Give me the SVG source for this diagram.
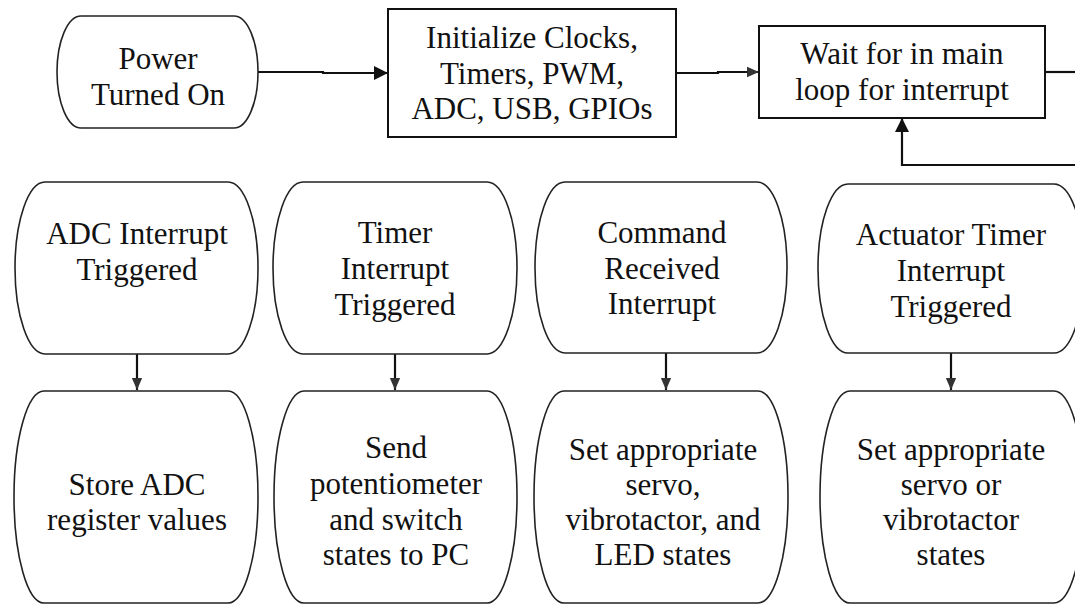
<svg xmlns="http://www.w3.org/2000/svg" width="1075" height="607" viewBox="0 0 1075 607">
  <style>
    .box { fill: #ffffff; stroke: #111111; stroke-width: 2; }
    .pill { fill: #ffffff; stroke: #222222; stroke-width: 1.6; }
    .lbl { font-size: 31px; fill: #111111; text-anchor: middle; }
    .wire { fill: none; stroke: #111111; stroke-width: 2.2; }
    .head { fill: #111111; }
  </style>
  <defs>
    <marker id="tip" markerUnits="userSpaceOnUse" viewBox="0 0 14 14" refX="14" refY="7" markerWidth="14" markerHeight="14" orient="auto">
      <path d="M0,0 L14,7 L0,14 Z" class="head"/>
    </marker>
    <marker id="tipSmall" markerUnits="userSpaceOnUse" viewBox="0 0 14 14" refX="14" refY="7" markerWidth="13" markerHeight="12" orient="auto">
      <path d="M0,1 L14,7 L0,13 Z" fill="#333333"/>
    </marker>
  </defs>

  <rect width="1075" height="607" fill="#ffffff"/>

  <!-- connectors -->
  <g id="connectors">
    <path class="wire" d="M258,72 H323 V73 H388" marker-end="url(#tip)"/>
    <path class="wire" d="M676,73 H718 V72 H759" marker-end="url(#tipSmall)"/>
    <path class="wire" d="M1045,72 H1075"/>
    <path class="wire" d="M1075,165 H902 V118" marker-end="url(#tip)"/>
    <path class="wire" d="M137,354 V390" marker-end="url(#tipSmall)"/>
    <path class="wire" d="M395,354 V390" marker-end="url(#tipSmall)"/>
    <path class="wire" d="M666,353 V390" marker-end="url(#tipSmall)"/>
    <path class="wire" d="M951,353 V390" marker-end="url(#tipSmall)"/>
  </g>

  <g font-family="Liberation Serif, Tinos, DejaVu Serif, serif">
  <!-- start -->
  <g id="power">
    <rect class="pill" x="57" y="16" width="201" height="112" rx="24" ry="56"/>
    <text class="lbl" x="158" y="69">Power</text>
    <text class="lbl" x="158" y="105">Turned On</text>
  </g>

  <g id="init">
    <rect class="box" x="388" y="9" width="288" height="128"/>
    <text class="lbl" x="532" y="48">Initialize Clocks,</text>
    <text class="lbl" x="532" y="84">Timers, PWM,</text>
    <text class="lbl" x="532" y="119">ADC, USB, GPIOs</text>
  </g>

  <g id="wait">
    <rect class="box" x="759" y="26" width="286" height="92"/>
    <text class="lbl" x="902" y="64">Wait for in main</text>
    <text class="lbl" x="902" y="100">loop for interrupt</text>
  </g>

  <!-- interrupt sources -->
  <g id="adc-int">
    <rect class="pill" x="15" y="182" width="243" height="172" rx="30" ry="86"/>
    <text class="lbl" x="137" y="244">ADC Interrupt</text>
    <text class="lbl" x="137" y="280">Triggered</text>
  </g>

  <g id="timer-int">
    <rect class="pill" x="273" y="182" width="244" height="172" rx="30" ry="86"/>
    <text class="lbl" x="395" y="243">Timer</text>
    <text class="lbl" x="395" y="279">Interrupt</text>
    <text class="lbl" x="395" y="315">Triggered</text>
  </g>

  <g id="cmd-int">
    <rect class="pill" x="535" y="182" width="252" height="171" rx="30" ry="85"/>
    <text class="lbl" x="662" y="243">Command</text>
    <text class="lbl" x="662" y="279">Received</text>
    <text class="lbl" x="662" y="314">Interrupt</text>
  </g>

  <g id="act-int">
    <rect class="pill" x="818" y="184" width="266" height="169" rx="30" ry="84"/>
    <text class="lbl" x="951" y="245">Actuator Timer</text>
    <text class="lbl" x="951" y="281">Interrupt</text>
    <text class="lbl" x="951" y="317">Triggered</text>
  </g>

  <!-- handlers -->
  <g id="store-adc">
    <rect class="pill" x="14" y="391" width="244" height="212" rx="30" ry="106"/>
    <text class="lbl" x="137" y="495">Store ADC</text>
    <text class="lbl" x="137" y="530">register values</text>
  </g>

  <g id="send-pc">
    <rect class="pill" x="274" y="391" width="243" height="212" rx="30" ry="106"/>
    <text class="lbl" x="396" y="458">Send</text>
    <text class="lbl" x="396" y="494">potentiometer</text>
    <text class="lbl" x="396" y="530">and switch</text>
    <text class="lbl" x="396" y="565">states to PC</text>
  </g>

  <g id="set-cmd">
    <rect class="pill" x="534" y="391" width="254" height="212" rx="30" ry="106"/>
    <text class="lbl" x="663" y="460">Set appropriate</text>
    <text class="lbl" x="663" y="495">servo,</text>
    <text class="lbl" x="663" y="530">vibrotactor, and</text>
    <text class="lbl" x="663" y="565">LED states</text>
  </g>

  <g id="set-act">
    <rect class="pill" x="820" y="391" width="264" height="212" rx="30" ry="106"/>
    <text class="lbl" x="951" y="460">Set appropriate</text>
    <text class="lbl" x="951" y="495">servo or</text>
    <text class="lbl" x="951" y="530">vibrotactor</text>
    <text class="lbl" x="951" y="565">states</text>
  </g>
  </g>
</svg>
